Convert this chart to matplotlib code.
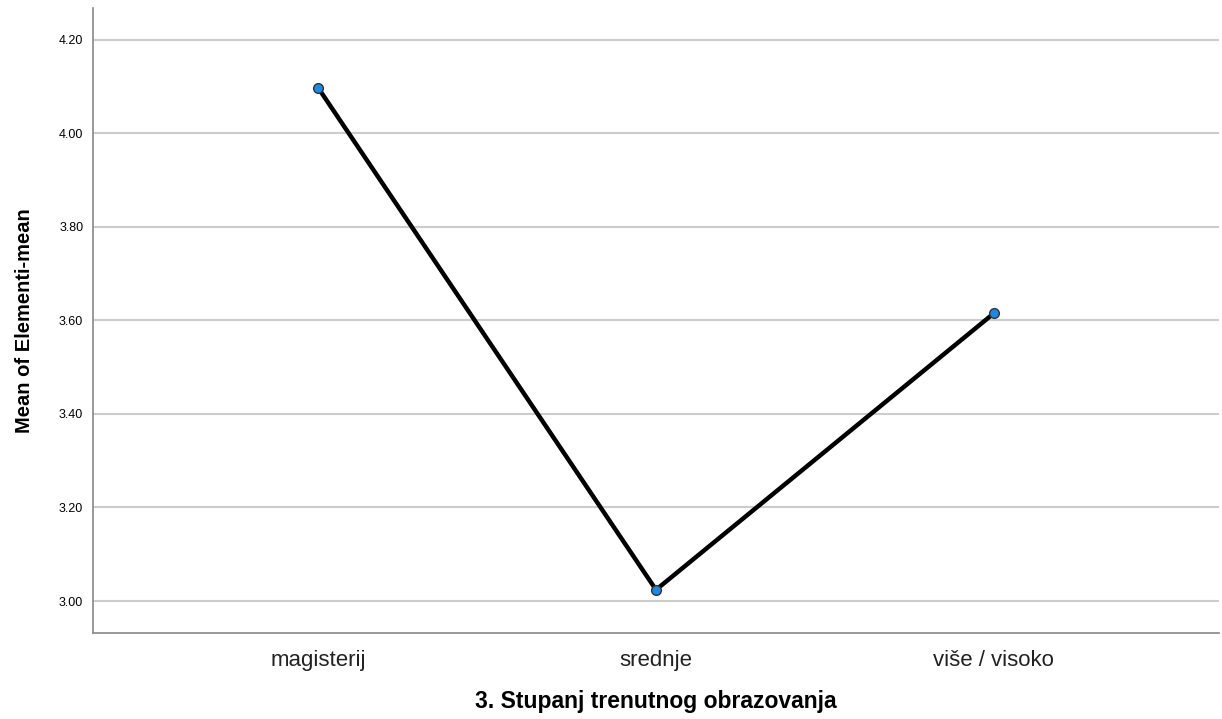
import matplotlib.pyplot as plt

categories = ['magisterij', 'srednje', 'više / visoko']
means = [4.097, 3.024, 3.615]
yticks = [3.00, 3.20, 3.40, 3.60, 3.80, 4.00, 4.20]

plt.rcParams['font.family'] = ['Liberation Sans', 'DejaVu Sans']

fig = plt.figure(figsize=(12.22, 7.19), dpi=100)
ax = fig.add_axes([93/1222, 86/719, 1126/1222, 625/719])

x = range(len(categories))
ax.plot(x, means, color='black', linewidth=3.2, zorder=3)
ax.plot(x, means, linestyle='none', marker='o', markersize=7,
        markerfacecolor='#1e88e5', markeredgecolor='#333333', markeredgewidth=1, zorder=4)

ax.set_xlim(-0.667, 2.667)
ax.set_ylim(2.9316, 4.268)
ax.set_yticks(yticks)
ax.set_yticklabels([f'{v:.2f}' for v in yticks], fontsize=9)
ax.set_xticks(list(x))
ax.set_xticklabels(categories, fontsize=16, color='#222222')
ax.tick_params(axis='both', length=0)
ax.tick_params(axis='x', pad=12)
ax.tick_params(axis='y', pad=7)

ax.grid(axis='y', color='#cccccc', linewidth=1.5)
ax.set_axisbelow(True)
for s in ['top', 'right']:
    ax.spines[s].set_visible(False)
for s in ['left', 'bottom']:
    ax.spines[s].set_color('#888888')
    ax.spines[s].set_linewidth(1.2)

ax.set_xlabel('3. Stupanj trenutnog obrazovanja', fontsize=16.5, fontweight='bold', labelpad=14)
ax.set_ylabel('Mean of Elementi-mean', fontsize=14.5, fontweight='bold', labelpad=18)

fig.savefig('out.png', dpi=100)
